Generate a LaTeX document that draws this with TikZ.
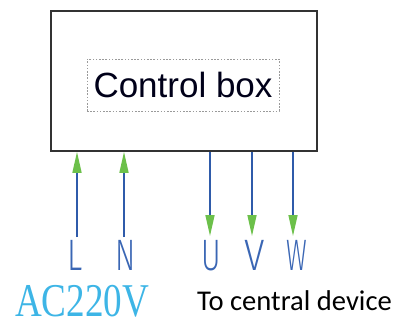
\documentclass[tikz,border=0pt]{standalone}
\usepackage{fontspec}
\setmainfont{Liberation Sans}
\newfontfamily\calfont{Carlito}
\newfontfamily\serfont{Liberation Serif}
\newfontfamily\pinfont{Fira Sans}[UprightFont=*-Light]
\usetikzlibrary{arrows.meta}
\definecolor{wireblue}{HTML}{2F5BAA}
\definecolor{tipgreen}{HTML}{6CC04A}
\definecolor{lettblue}{HTML}{3A66B4}
\definecolor{acblue}{HTML}{3DB5E6}
\definecolor{boxgray}{HTML}{333333}
\definecolor{dashgray}{HTML}{9A9A9A}
\tikzset{
  mainbox/.style={draw=boxgray, line width=1.7pt, minimum width=266pt, minimum height=140pt, inner sep=0pt},
  labelbox/.style={draw=dashgray, line width=0.8pt, dash pattern=on 1.6pt off 1.6pt, minimum width=192pt, minimum height=52pt, inner sep=0pt, font=\fontsize{35}{40}\selectfont, text=black!90!blue},
  wire/.style={draw=wireblue, line width=1.6pt},
  uptip/.style={-{Triangle[length=21pt,width=9pt,color=tipgreen]}},
  pin/.style={anchor=base, text=lettblue, font=\pinfont\fontsize{44}{50}\selectfont, inner sep=0pt},
}
\begin{document}
\begin{tikzpicture}[x=1pt,y=-1pt]
\useasboundingbox (0,0) rectangle (403,320);
\node[mainbox] (box) at (184,81) {};
\node[labelbox] (lbl) at (183,85) {Control box};
% pin letters
\node[pin, xscale=0.72] (L) at (75,270) {L};
\node[pin, xscale=0.68] (N) at (126,270) {N};
\node[pin, xscale=0.68] (U) at (211,270) {U};
\node[pin, xscale=0.85] (V) at (254.5,270) {V};
\node[pin, xscale=0.58] (W) at (296.5,270) {W};
% wire ends
\coordinate (Le) at (77,237);
\coordinate (Ne) at (124,237);
\coordinate (Ue) at (210,236);
\coordinate (Ve) at (252,236);
\coordinate (We) at (293,236);
\draw[wire, uptip] (Le) -- (Le |- box.south);
\draw[wire, uptip] (Ne) -- (Ne |- box.south);
\draw[wire, uptip] (Ue |- box.south) -- (Ue);
\draw[wire, uptip] (Ve |- box.south) -- (Ve);
\draw[wire, uptip] (We |- box.south) -- (We);
% captions
\node[anchor=base west, inner sep=0pt, text=acblue, font=\serfont\fontsize{47}{50}\selectfont, xscale=0.79] (ac) at (15,316.5) {AC220V};
\node[anchor=base west, inner sep=0pt, text=black, font=\calfont\fontsize{28.6}{32}\selectfont] (to) at (197,310) {To central device};
\end{tikzpicture}
\end{document}
